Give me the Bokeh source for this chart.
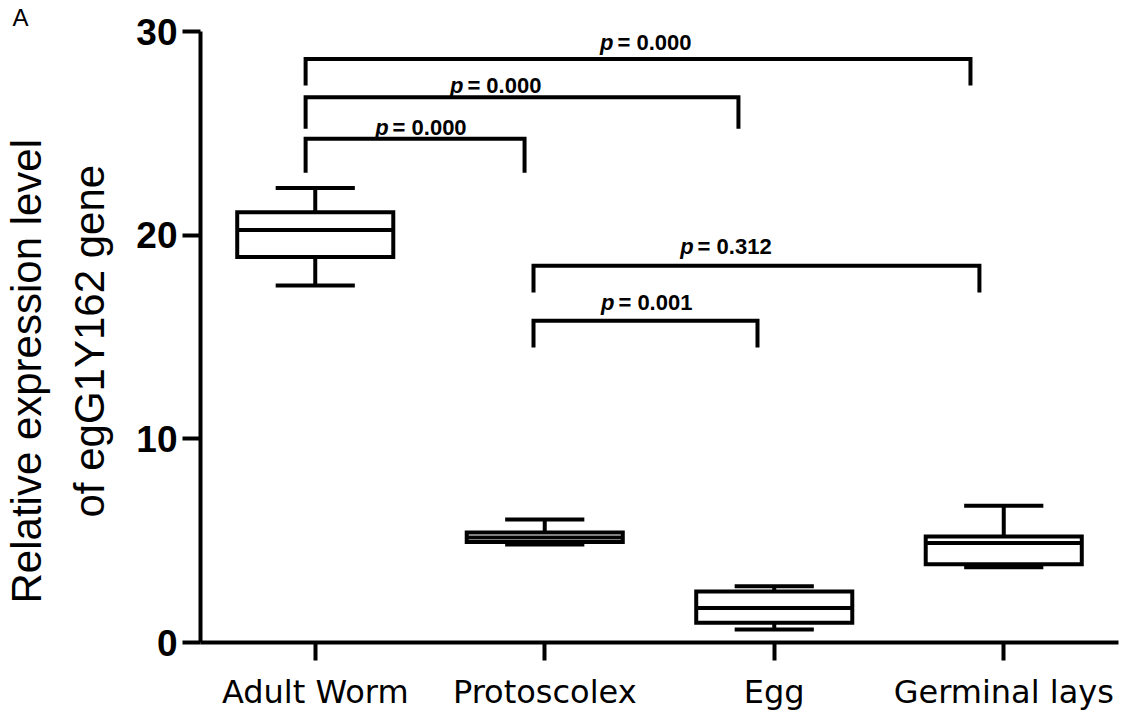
from bokeh.plotting import figure
from bokeh.models import FixedTicker, Title, ColumnDataSource
from bokeh.core.properties import value
from bokeh.embed import file_html
from bokeh.resources import INLINE

# ---- data ----
categories = ["Adult Worm", "Protoscolex", "Egg", "Germinal lays"]
q_min = [17.53, 4.81, 0.64, 3.70]
q1 = [18.93, 4.94, 0.97, 3.84]
median = [20.25, 5.15, 1.70, 4.89]
q3 = [21.13, 5.40, 2.50, 5.20]
q_max = [22.31, 6.04, 2.76, 6.71]

# significance brackets (category units / y units)
br_x0 = [-0.042, -0.042, -0.042, 0.951, 0.951]
br_x1 = [2.855, 1.844, 0.912, 2.894, 1.927]
br_top = [28.65, 26.77, 24.74, 18.50, 15.80]
br_bot = [27.35, 25.23, 23.07, 17.18, 14.48]
p_text = ["= 0.000", "= 0.000", "= 0.000", "= 0.312", "= 0.001"]
p_x = [1.317, 0.663, 0.337, 1.666, 1.321]
p_y = [29.47, 27.34, 25.30, 19.44, 16.70]

y_ticks = [0, 10, 20, 30]
y_title = ["Relative expression level", "of egG1Y162 gene"]
panel_letter = "A"

xs = list(range(len(categories)))
box_w = 0.68
cap_w = 0.345

p = figure(width=1122, height=719, output_backend="svg", toolbar_location=None,
           x_range=(-0.5, 3.5), y_range=(0, 30),
           min_border_left=200, min_border_right=4, min_border_top=31, min_border_bottom=77)
p.outline_line_color = None
p.grid.visible = False
p.background_fill_color = "white"
p.border_fill_color = "white"

# panel letter as title
p.title.text = panel_letter
p.title.align = "left"
p.title.offset = -188
p.title.standoff = 2
p.title.text_font = "Liberation Sans"
p.title.text_font_style = "normal"
p.title.text_font_size = "24px"
p.title.text_color = "black"

# axes
p.xaxis.ticker = FixedTicker(ticks=xs)
p.xaxis.major_label_overrides = {i: c for i, c in zip(xs, categories)}
p.yaxis.ticker = FixedTicker(ticks=y_ticks)
for ax in (p.xaxis, p.yaxis):
    ax.axis_line_width = 4
    ax.axis_line_color = "black"
    ax.major_tick_line_width = 4
    ax.major_tick_line_color = "black"
    ax.major_tick_in = 0
    ax.major_tick_out = 18
    ax.minor_tick_line_color = None
p.xaxis.major_label_text_font = "DejaVu Sans"
p.xaxis.major_label_text_font_size = "32px"
p.xaxis.major_label_text_color = "black"
p.xaxis.major_label_standoff = 12
p.yaxis.major_label_text_font = "Liberation Sans"
p.yaxis.major_label_text_font_style = "bold"
p.yaxis.major_label_text_font_size = "37px"
p.yaxis.major_label_text_color = "black"
p.yaxis.major_label_standoff = 5

# box plots
src = ColumnDataSource(dict(x=xs, q_min=q_min, q1=q1, med=median, q3=q3, q_max=q_max,
                            xl=[x - box_w / 2 for x in xs], xr=[x + box_w / 2 for x in xs],
                            cl=[x - cap_w / 2 for x in xs], cr=[x + cap_w / 2 for x in xs]))
p.segment(x0="x", y0="q3", x1="x", y1="q_max", source=src, line_width=4, line_color="black")
p.segment(x0="x", y0="q1", x1="x", y1="q_min", source=src, line_width=4, line_color="black")
p.vbar(x="x", width=box_w, bottom="q1", top="q3", source=src,
       fill_color="white", line_color="black", line_width=4, line_join="miter")
p.segment(x0="xl", y0="med", x1="xr", y1="med", source=src, line_width=4, line_color="black")
p.segment(x0="cl", y0="q_max", x1="cr", y1="q_max", source=src, line_width=4, line_color="black")
p.segment(x0="cl", y0="q_min", x1="cr", y1="q_min", source=src, line_width=4, line_color="black")

# brackets
bx = [[a, a, b, b] for a, b in zip(br_x0, br_x1)]
by = [[lo, hi, hi, lo] for hi, lo in zip(br_top, br_bot)]
p.multi_line(xs=bx, ys=by, line_width=4, line_color="black", line_join="miter")

psrc = ColumnDataSource(dict(x=p_x, y=p_y, t=p_text, pp=["p"] * len(p_x)))
p.text(x="x", y="y", text="pp", source=psrc, text_font=value("Liberation Sans"),
       text_font_style="bold italic", text_font_size="22px", text_align="right",
       text_baseline="alphabetic", x_offset=-4, text_color="black")
p.text(x="x", y="y", text="t", source=psrc, text_font=value("Liberation Sans"),
       text_font_style="bold", text_font_size="22px", text_align="left",
       text_baseline="alphabetic", x_offset=0, text_color="black")

# y axis title: two lines as left-side titles (inner line first)
t2 = Title(text=y_title[1], align="left", offset=125, standoff=41,
           text_font="Liberation Sans", text_font_style="normal",
           text_font_size="42px", text_color="black")
t1 = Title(text=y_title[0], align="left", offset=39, standoff=-13,
           text_font="Liberation Sans", text_font_style="normal",
           text_font_size="42px", text_color="black")
p.add_layout(t2, "left")
p.add_layout(t1, "left")

open("out.html", "w").write(file_html(p, INLINE))
